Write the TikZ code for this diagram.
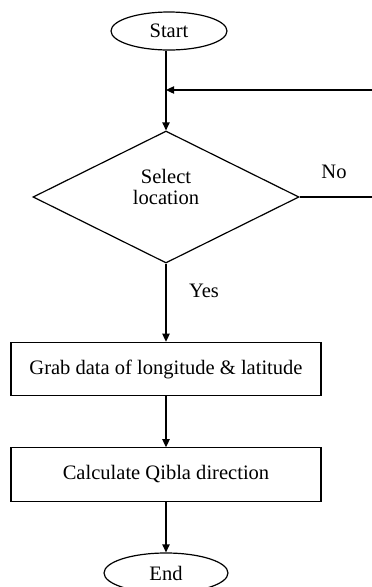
\documentclass[tikz,border=0pt]{standalone}
\usepackage{fontspec}
\setmainfont{Liberation Serif}
\usetikzlibrary{shapes.geometric,arrows.meta}
\begin{document}
\begin{tikzpicture}[x=0.75pt,y=-0.75pt,
  line width=0.9pt,
  txt/.style={font=\fontsize{15.4}{15.75}\selectfont, inner sep=0pt},
  terminal/.style={draw, ellipse, inner sep=0pt, txt},
  process/.style={draw, rectangle, inner sep=0pt, minimum width=232.5pt, minimum height=40pt, txt},
  decision/.style={draw, diamond, inner sep=0pt, minimum width=199.5pt, minimum height=99pt},
  flow/.style={-{Triangle[length=6pt,width=5.5pt]}}
]
\clip (0,0) rectangle (372,587);

% nodes
\node[terminal, minimum width=87pt, minimum height=28.5pt] (start) at (169,31) {Start};
\node[decision] (sel) at (166,197) {};
\node[txt, align=center] (seltxt) at (166,187) {Select\\location};
\node[process] (grab) at (166,369) {Grab data of longitude \& latitude};
\node[process] (calc) at (166,474.5) {Calculate Qibla direction};
\node[terminal, minimum width=93pt, minimum height=30pt] (end) at (166,573) {End};

% branch labels
\node[txt] (no) at (334,172) {No};
\node[txt] (yes) at (204,291) {Yes};

% loop-back path leaving the picture on the right
\coordinate (j) at (166,90);
\coordinate (eR) at (376,197);
\coordinate (eT) at (376,90);

% connectors
\draw[flow] (start.south -| sel.north) -- (sel.north);
\draw (sel.east) -- (eR) -- (eT);
\draw[flow] (eT) -- (j);
\draw[flow] (sel.south) -- (grab.north);
\draw[flow] (grab.south) -- (calc.north);
\draw[flow] (calc.south) -- (end.north);
\end{tikzpicture}
\end{document}
